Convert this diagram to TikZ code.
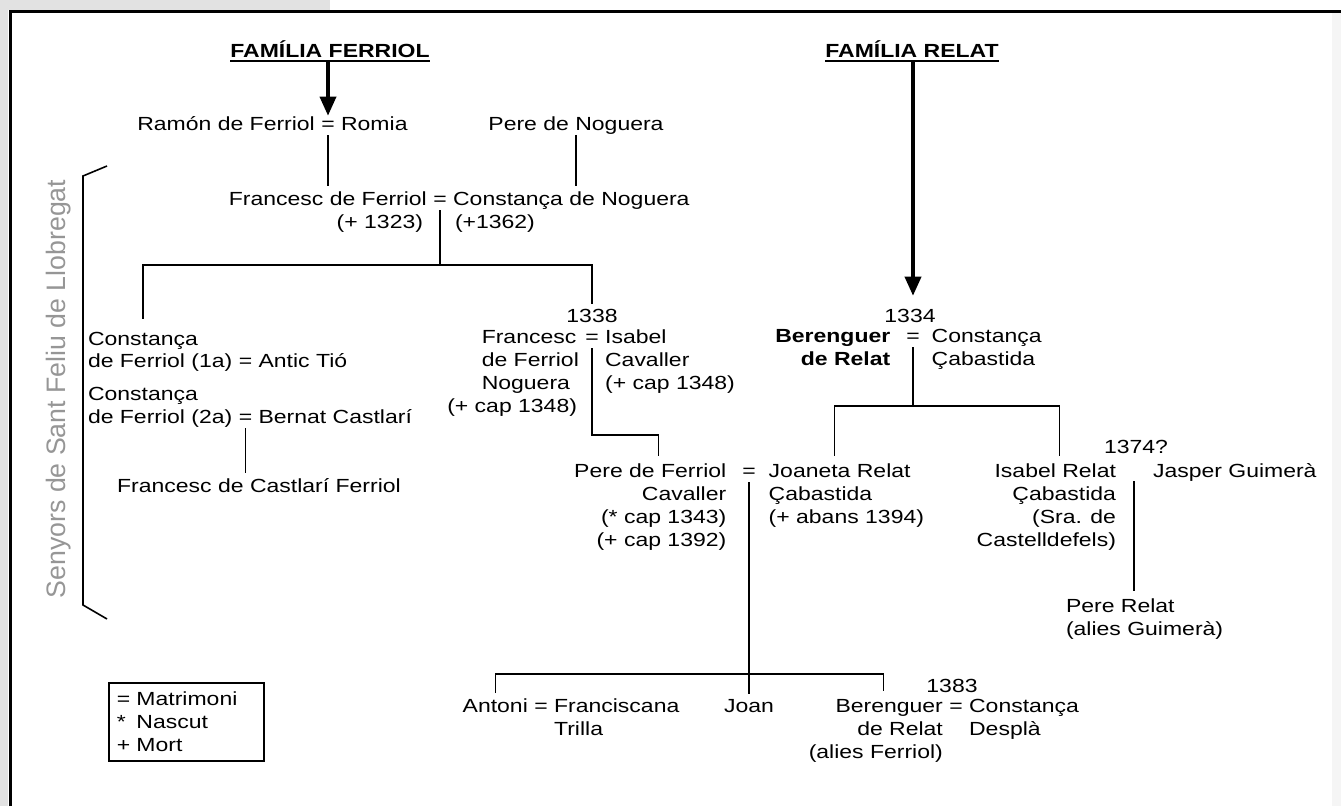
\documentclass[tikz,border=0pt]{standalone}
\usepackage{fontspec}
\setmainfont{Liberation Sans}[FakeStretch=1.21]
\newfontfamily\lordfont{Liberation Sans}
\usetikzlibrary{arrows.meta,positioning}
\definecolor{scangray}{RGB}{226,226,226}
\definecolor{lordgray}{RGB}{150,150,150}
\tikzstyle{person}=[inner sep=0pt,outer xsep=0pt,outer ysep=5pt]
\tikzstyle{wed}=[person]
\tikzstyle{family}=[person,font=\bfseries]
\tikzstyle{kin}=[line width=1.3pt]
\tikzstyle{uline}=[line width=2.5pt]
\tikzstyle{lordline}=[line width=1.6pt]
\tikzstyle{descent}=[line width=3.5pt,-{Triangle[width=16pt,length=19pt]}]
\tikzstyle{keybox}=[draw,line width=1.5pt,inner xsep=8pt,inner ysep=0pt,text width=139pt,minimum height=78pt,align=left]
\newcommand{\stackl}[1]{\begin{tabular}[t]{@{}l@{}}#1\end{tabular}}
\newcommand{\stackr}[1]{\begin{tabular}[t]{@{}r@{}}#1\end{tabular}}

\begin{document}
\fontsize{19}{23}\selectfont
\begin{tikzpicture}[x=1pt,y=-1pt,node distance=6.4pt]
\useasboundingbox (0,0) rectangle (1341,806);
\fill[scangray] (0,0) rectangle (330,10);
\fill[scangray] (0,0) rectangle (8,806);
\fill[gray!8] (1332,12) rectangle (1341,806);
\draw[line width=3pt] (10,806) -- (10,11) -- (1341,11);

\node[family,anchor=base] (ferriol) at (330,57) {FAMÍLIA FERRIOL};
\node[family,anchor=base] (relat) at (912,57) {FAMÍLIA RELAT};
\draw[uline] ([yshift=-4pt]ferriol.base west) -- ([yshift=-4pt]ferriol.base east);
\draw[uline] ([yshift=-4pt]relat.base west) -- ([yshift=-4pt]relat.base east);

\node[wed,anchor=base] (wed1) at (328,130) {=};
\node[person,base left=of wed1] (ramon) {Ramón de Ferriol};
\node[person,base right=of wed1] (romia) {Romia};
\node[person,anchor=base] (pnoguera) at (576,130) {Pere de Noguera};

\node[wed,anchor=base] (wed2) at (440,205) {=};
\node[person,base left=of wed2] (francesc) {Francesc de Ferriol};
\node[person,base right=of wed2] (cnoguera) {Constança de Noguera};
\node[person,anchor=base east] (dfrancesc) at (423,228) {(+ 1323)};
\node[person,anchor=base west] (dcnoguera) at (455,228) {(+1362)};
\coordinate (bar1) at ([yshift=-60pt]wed2.base);

\node[person,anchor=base west] (cons1a) at (88,345) {Constança};
\node[person,anchor=base west] (cons1b) at (88,367) {de Ferriol (1a)};
\node[wed,base right=of cons1b] (wed3) {=};
\node[person,base right=of wed3] (tio) {Antic Tió};
\node[person,anchor=base west] (cons2a) at (88,400) {Constança};
\node[person,anchor=base west] (cons2b) at (88,423) {de Ferriol (2a)};
\node[wed,base right=of cons2b] (wed4) {=};
\node[person,base right=of wed4] (castlari) {Bernat Castlarí};
\node[person,anchor=base] (fcastlari) at (259,492) {Francesc de Castlarí Ferriol};

\node[person,anchor=base] (d1338) at (592,322) {1338};
\node[wed,anchor=base] (wed5) at (592,343) {=};
\node[person,base left=of wed5] (fnoguera) {\stackl{Francesc\\de Ferriol\\Noguera}};
\node[person,anchor=base east] (dfnoguera) at (577,412) {(+ cap 1348)};
\node[person,base right=of wed5] (icavaller) {\stackl{Isabel\\Cavaller\\(+ cap 1348)}};

\node[wed,anchor=base] (wed6) at (749,477) {=};
\node[person,base left=16pt of wed6] (pere) {\stackr{Pere de Ferriol\\Cavaller\\(* cap 1343)\\(+ cap 1392)}};
\node[person,base right=13pt of wed6] (joaneta) {\stackl{Joaneta Relat\\Çabastida\\(+ abans 1394)}};

\node[person,anchor=base] (d1334) at (910,322) {1334};
\node[wed,anchor=base] (wed7) at (913,342) {=};
\node[person,font=\bfseries,base left=16pt of wed7] (berenguer) {\stackr{Berenguer\\de Relat}};
\node[person,base right=12pt of wed7] (ccabastida) {\stackl{Constança\\Çabastida}};
\coordinate (bar2) at ([yshift=-64pt]wed7.base);

\node[person,anchor=base east] (isabelr) at (1116,477) {\stackr{Isabel Relat\\Çabastida\\(Sra. de\\Castelldefels)}};
\node[person,anchor=base west] (jasper) at (1153,477) {Jasper Guimerà};
\coordinate (wed8) at (1134,477);
\node[person,anchor=base] (d1374) at (1136,453) {1374?};
\node[person,anchor=base west] (pererelat) at (1066,612) {\stackl{Pere Relat\\(alies Guimerà)}};

\node[wed,anchor=base] (wed9) at (541,712) {=};
\node[person,base left=of wed9] (antoni) {Antoni};
\node[person,base right=of wed9] (franciscana) {\stackl{Franciscana\\Trilla}};
\node[person,anchor=base] (joan) at (749,712) {Joan};
\node[wed,anchor=base] (wed10) at (956,712) {=};
\node[person,base left=of wed10] (berenguer2) {\stackr{Berenguer\\de Relat\\(alies Ferriol)}};
\node[person,base right=of wed10] (despla) {\stackl{Constança\\Desplà}};
\node[person,anchor=base] (d1383) at (952,692) {1383};
\coordinate (bar3) at ([yshift=-197pt]wed6.base);

\node[person,rotate=90,anchor=base,text=lordgray,font=\lordfont\fontsize{26.7}{30}\selectfont] (senyors) at (65,389) {Senyors de Sant Feliu de Llobregat};
\draw[lordline] (107,166) -- (83,176) -- (83,605) -- (107,619);
\node[keybox,anchor=north west] (key) at (108,682) {= Matrimoni\\\leavevmode\rlap{*}\phantom{=} Nascut\\+ Mort};

\draw[descent] (wed1 |- ferriol.south) -- (wed1.north);
\draw[descent,shorten >=8pt] (wed7 |- relat.south) -- (wed7 |- d1334.north);
\draw[kin] (wed1.south) -- (wed1 |- francesc.north);
\draw[kin] ([yshift=4pt]pnoguera.south) -- (pnoguera |- cnoguera.north);
\draw[kin] (wed2.south) -- (bar1);
\draw[kin] ([yshift=8pt]cons1a.north) |- (bar1) -| (d1338.north);
\draw[kin] (wed4.south) -- (wed4 |- fcastlari.north);
\draw[kin] (wed5.south) |- ([xshift=8pt,yshift=21pt]pere.north) -- ([xshift=8pt]pere.north);
\draw[kin] (wed7.south) -- (bar2);
\draw[kin] ([xshift=-12pt]joaneta.north) |- (bar2) -| ([xshift=13pt]isabelr.north);
\draw[kin] ([yshift=-4pt]wed8) -- (wed8 |- pererelat.north);
\draw[kin] (wed6.south) -- (joan.north);
\draw[kin] (antoni.north) |- (bar3) -| ([xshift=8pt]berenguer2.north);
\end{tikzpicture}
\end{document}
